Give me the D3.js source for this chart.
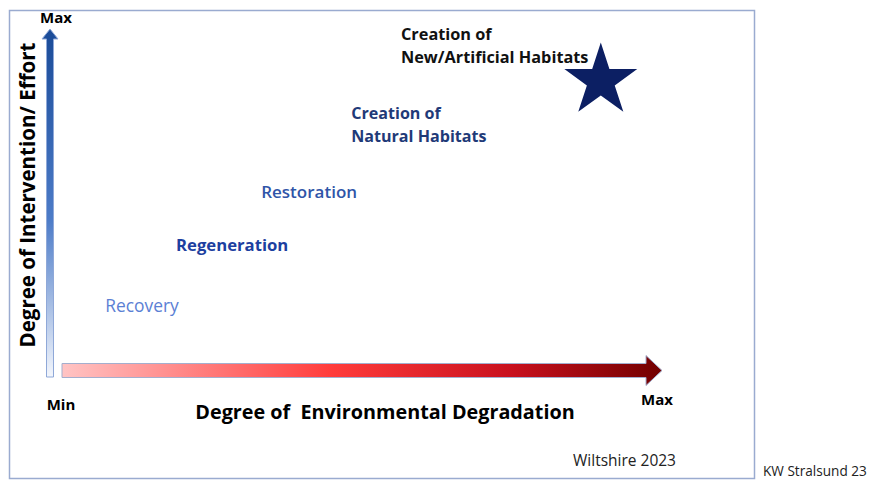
<!DOCTYPE html>
<html lang="en">
<head>
<meta charset="UTF-8">
<title>Intervention vs Degradation</title>
<script src="https://d3js.org/d3.v7.min.js"></script>
<style>
  body { margin: 0; background: #fff; }
  text { font-family: "Open Sans", Lato, sans-serif; }
</style>
</head>
<body>
<svg id="chart" width="869" height="481"></svg>
<script>
// stages along the two axes (0 = min, 1 = max)
const stages = ["Recovery", "Regeneration", "Restoration", "Creation of|Natural Habitats", "Creation of|New/Artificial Habitats"];
const degradation = [0.072, 0.19, 0.332, 0.482, 0.565];
const intervention = [0.204, 0.379, 0.532, 0.727, 0.953];
const starPoint = [0.898, 0.851];

// look of each stage label
const stageStyle = {
  "Recovery": { color: "#5b80d4", weight: 400, size: 17.4 },
  "Regeneration": { color: "#1d3fa0", weight: 700, size: 16.7 },
  "Restoration": { color: "#2f55a8", weight: 600, size: 17 },
  "Creation of|Natural Habitats": { color: "#1f3a78", weight: 700, size: 16.1 },
  "Creation of|New/Artificial Habitats": { color: "#111111", weight: 700, size: 16.3 }
};

const svg = d3.select("#chart");
const x = d3.scaleLinear().domain([0, 1]).range([62, 662]);
const y = d3.scaleLinear().domain([0, 1]).range([377, 29]);

const defs = svg.append("defs");
const gv = defs.append("linearGradient").attr("id", "gv").attr("x1", 0).attr("y1", 1).attr("x2", 0).attr("y2", 0);
gv.append("stop").attr("offset", 0).attr("stop-color", "#f3f6fc");
gv.append("stop").attr("offset", 0.45).attr("stop-color", "#4d7cc8");
gv.append("stop").attr("offset", 1).attr("stop-color", "#1a4b98");
const gh = defs.append("linearGradient").attr("id", "gh");
gh.append("stop").attr("offset", 0).attr("stop-color", "#ffc4c4");
gh.append("stop").attr("offset", 0.45).attr("stop-color", "#ff3b3b");
gh.append("stop").attr("offset", 0.75).attr("stop-color", "#c8101e");
gh.append("stop").attr("offset", 1).attr("stop-color", "#720000");

// frame
svg.append("rect").attr("x", 9.5).attr("y", 10.5).attr("width", 745).attr("height", 468)
  .attr("fill", "none").attr("stroke", "#9aabd0").attr("stroke-width", 1.5);

// vertical arrow
const x0 = 50, yb = y(0), yt = y(1);
svg.append("path")
  .attr("d", `M${x0 - 3.5},${yb} L${x0 - 3.5},${yt + 10} L${x0 - 8},${yt + 10} L${x0},${yt} L${x0 + 8},${yt + 10} L${x0 + 3.5},${yt + 10} L${x0 + 3.5},${yb} Z`)
  .attr("fill", "url(#gv)").attr("stroke", "#8fa8d8").attr("stroke-width", 1);

// horizontal arrow
const yc = 370.5, xl = x(0), xr = x(1);
svg.append("path")
  .attr("d", `M${xl},${yc - 7} L${xr - 16},${yc - 7} L${xr - 16},${yc - 15} L${xr},${yc} L${xr - 16},${yc + 15} L${xr - 16},${yc + 7} L${xl},${yc + 7} Z`)
  .attr("fill", "url(#gh)").attr("stroke", "#a3aece").attr("stroke-width", 1);

// axis labels
svg.append("text").attr("x", 56).attr("y", 23).attr("text-anchor", "middle")
  .attr("font-size", 15).attr("font-weight", 700).text("Max");
svg.append("text").attr("x", 61).attr("y", 410).attr("text-anchor", "middle")
  .attr("font-size", 15).attr("font-weight", 700).text("Min");
svg.append("text").attr("x", 657).attr("y", 405).attr("text-anchor", "middle")
  .attr("font-size", 15).attr("font-weight", 700).text("Max");
svg.append("text").attr("transform", "translate(35,195) rotate(-90)").attr("text-anchor", "middle")
  .attr("font-size", 20.5).attr("font-weight", 700).text("Degree of Intervention/ Effort");
svg.append("text").attr("x", 385).attr("y", 419).attr("text-anchor", "middle")
  .attr("font-size", 19.8).attr("font-weight", 700).attr("xml:space", "preserve")
  .text("Degree of  Environmental Degradation");

// star (under the labels)
svg.append("path")
  .attr("d", d3.symbol().type(d3.symbolStar).size(1650)())
  .attr("transform", `translate(${x(starPoint[0])},${y(starPoint[1])})`)
  .attr("fill", "#0c1f63");

// stages
stages.forEach((s, i) => {
  const lines = s.split("|");
  const st = stageStyle[s];
  const t = svg.append("text").attr("x", x(degradation[i])).attr("y", y(intervention[i]))
    .attr("fill", st.color).attr("font-weight", st.weight).attr("font-size", st.size);
  lines.forEach((l, j) => {
    t.append("tspan").attr("x", x(degradation[i]))
      .attr("dy", j === 0 ? (lines.length === 1 ? 6 : -5.5) : 23).text(l);
  });
});

// credits
svg.append("text").attr("x", 573).attr("y", 466).attr("font-size", 15.5).attr("fill", "#222").text("Wiltshire 2023");
svg.append("text").attr("x", 763).attr("y", 476).attr("font-size", 13.6).attr("fill", "#222").text("KW Stralsund 23");
</script>
</body>
</html>
